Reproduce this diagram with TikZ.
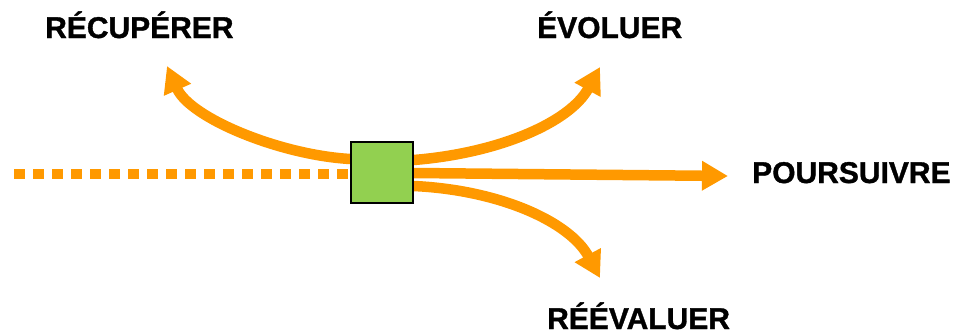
\documentclass[tikz,border=0pt]{standalone}
\usepackage{fontspec}
\setmainfont{Liberation Sans}
\newfontfamily\heavyfont[FakeBold=1.2]{Liberation Sans Bold}
\usetikzlibrary{arrows.meta}
\definecolor{flow}{RGB}{255,153,0}
\definecolor{boxgreen}{RGB}{146,208,80}
\tikzset{
  route/.style={draw=flow, line width=10.5pt,
    -{Triangle[length=26pt,width=28pt]}},
  trail/.style={draw=flow, line width=10pt, dash pattern=on 10.5pt off 8.5pt},
  choice/.style={font=\heavyfont\fontsize{30}{30}\selectfont, inner sep=0pt, anchor=base west},
  hub/.style={draw=black, line width=1.5pt, fill=boxgreen, minimum width=62pt,
    minimum height=61pt, inner sep=0pt}
}
\begin{document}
\begin{tikzpicture}[x=1pt, y=-1pt]
  \useasboundingbox (0,0) rectangle (958,335);

  % labels
  \node[choice] (recup) at (45,38) {RÉCUPÉRER};
  \node[choice] (evol) at (537,38) {ÉVOLUER};
  \node[choice] (pours) at (752,183) {POURSUIVRE};
  \node[choice] (reeval) at (547,329) {RÉÉVALUER};

  % decision point
  \node[hub] (sq) at (382,172.5) {};

  % arrow ends
  \coordinate (tipRecup) at (167,66);
  \coordinate (tipEvol) at (600,67);
  \coordinate (tipPours) at (728,176);
  \coordinate (tipReeval) at (600,278);
  \coordinate (start) at (14,174);

  % past path
  \draw[trail] (start) -- (sq.west |- start);

  % options
  \draw[route] ([yshift=13.5pt]sq.west) .. controls (280,155) and (190,118) .. (tipRecup);
  \draw[route] ([yshift=12.5pt]sq.east) .. controls (500,153) and (570,122) .. (tipEvol);
  \draw[route] ([yshift=-0.5pt]sq.east) -- (tipPours);
  \draw[route] ([yshift=-13.5pt]sq.east) .. controls (500,190) and (570,222) .. (tipReeval);

  % redraw hub on top
  \node[hub] at (sq) {};
\end{tikzpicture}
\end{document}
